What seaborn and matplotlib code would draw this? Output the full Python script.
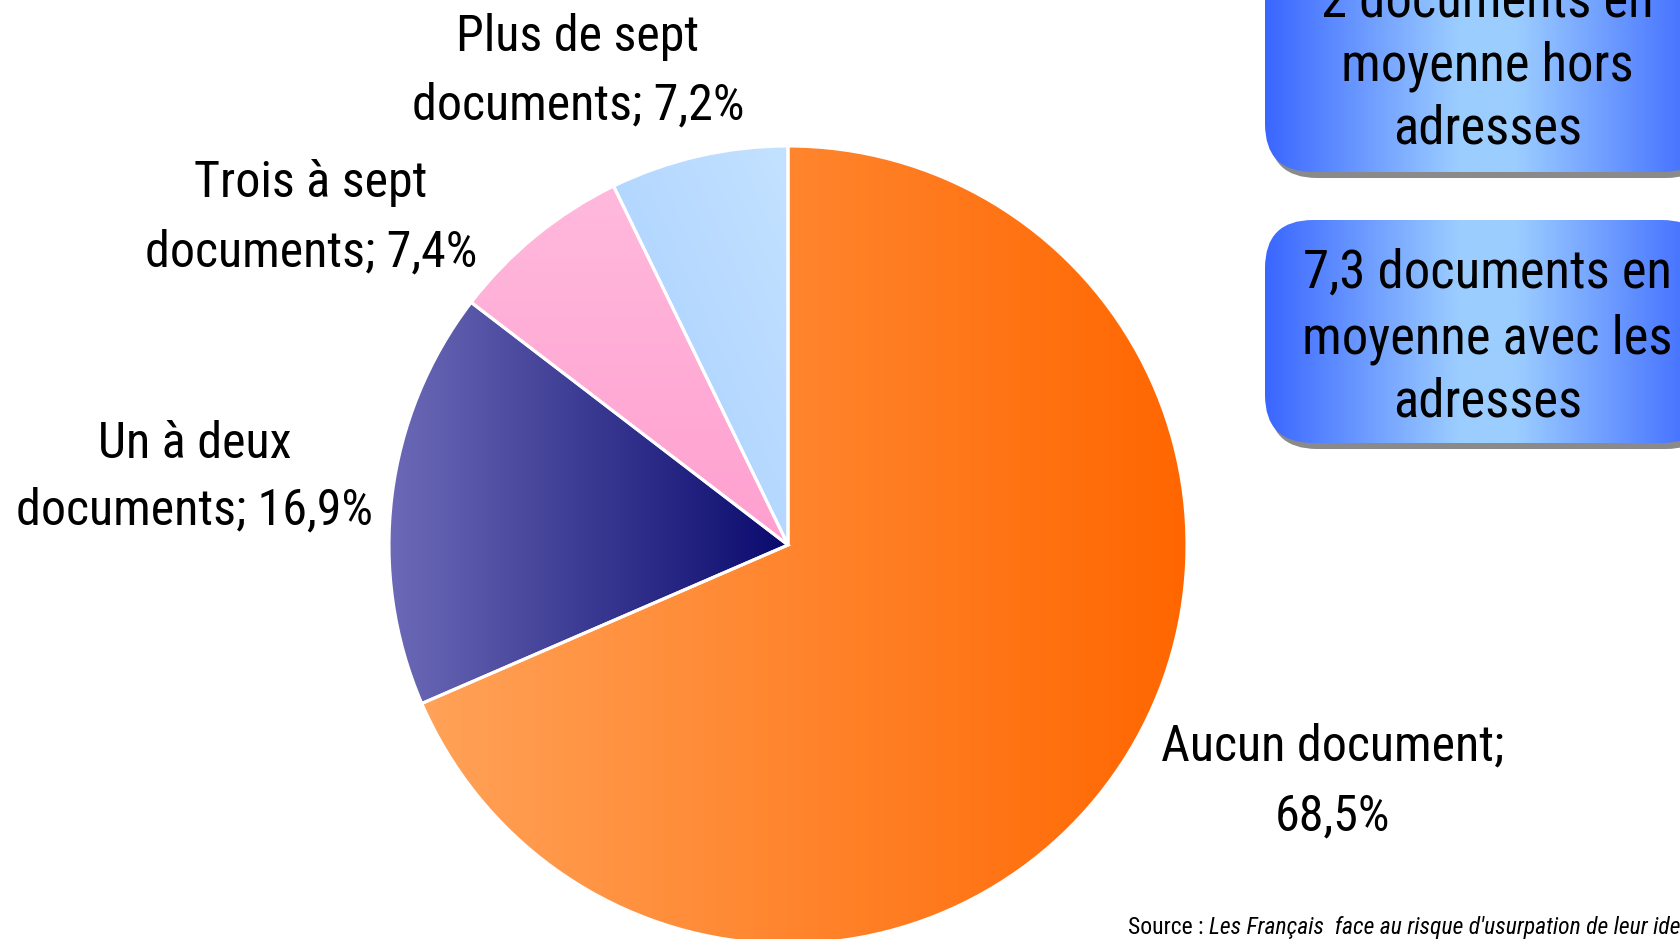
import numpy as np
import matplotlib
matplotlib.use("Agg")
import matplotlib.pyplot as plt
import seaborn as sns
from matplotlib import font_manager as fm
from matplotlib.patches import FancyBboxPatch
from matplotlib.colors import to_rgb

# ---------------- data ----------------
categories = ["Aucun document", "Un à deux documents", "Trois à sept documents", "Plus de sept documents"]
values = [68.5, 16.9, 7.4, 7.2]
value_labels = ["68,5%", "16,9%", "7,4%", "7,2%"]
label_lines = [
    ["Aucun document;", "{v}"],
    ["Un à deux", "documents; {v}"],
    ["Trois à sept", "documents; {v}"],
    ["Plus de sept", "documents; {v}"],
]
box_texts = [
    ["2 documents en", "moyenne hors", "adresses"],
    ["7,3 documents en", "moyenne avec les", "adresses"],
]
source_prefix = "Source : "
source_title = "Les Français  face au risque d'usurpation de leur identité"

# ---------------- style ----------------
sns.set_theme(style="white")
available = {f.name for f in fm.fontManager.ttflist}
candidates = ["Liberation Sans Narrow", "Arial Narrow", "Roboto Condensed", "Archivo Narrow",
              "PT Sans Narrow", "IBM Plex Sans Condensed", "Fira Sans Condensed",
              "Sofia Sans Condensed", "Open Sans Condensed"]
narrow = next((c for c in candidates if c in available), "DejaVu Sans")
plt.rcParams["font.family"] = [narrow, "DejaVu Sans"]

W, H = 1681, 939
fig = plt.figure(figsize=(W / 100, H / 100), dpi=100)
ax = fig.add_axes([0, 0, 1, 1])
ax.set_xlim(0, W)
ax.set_ylim(0, H)


def Y(y):  # pixel-from-top -> data y
    return H - y


# gradient specs per wedge: (start colour, end colour, direction)
grads = [
    ("#FFA258", "#FF6600", "h"),
    ("#6C6AB7", "#0A0A6E", "h"),
    ("#FFA0D0", "#FFB9DC", "v"),
    ("#A6CEFF", "#C4E2FF", "d"),
]

cx, cy, R = 788, Y(545), 399
wedges, _ = ax.pie(
    values, startangle=90, counterclock=False, center=(cx, cy), radius=R,
    frame=True,
    wedgeprops=dict(facecolor="none", edgecolor="white", linewidth=2.2, zorder=3),
)


def grad_img(c0, c1, direction, n=256):
    a, b = np.array(to_rgb(c0)), np.array(to_rgb(c1))
    t = np.linspace(0, 1, n)
    if direction == "h":
        tt = np.tile(t, (2, 1))
    elif direction == "v":
        tt = np.tile(t[:, None], (1, 2))
    else:
        X, Yg = np.meshgrid(t, t)
        tt = (X + Yg) / 2
    return a + (b - a) * tt[..., None]


for w, (c0, c1, d) in zip(wedges, grads):
    th = np.radians(np.linspace(w.theta1, w.theta2, 200))
    xs = np.concatenate([[w.center[0]], w.center[0] + w.r * np.cos(th)])
    ys = np.concatenate([[w.center[1]], w.center[1] + w.r * np.sin(th)])
    im = ax.imshow(grad_img(c0, c1, d), extent=(xs.min(), xs.max(), ys.min(), ys.max()),
                   origin="lower", aspect="auto", zorder=2, interpolation="bilinear")
    im.set_clip_path(w)

# ---------------- labels ----------------
label_pos = [(1333, [746, 816]), (195, [444, 510]), (311, [183, 252]), (578, [37, 105])]
for lines, v, (x, ys) in zip(label_lines, value_labels, label_pos):
    for line, y in zip(lines, ys):
        ax.text(x, Y(y), line.format(v=v), ha="center", va="center",
                fontsize=36, color="black", zorder=5)

# ---------------- boxes ----------------
box_geom = [(-51, 172, [2, 66, 129]), (220, 443, [273, 339, 402])]
bx0, bx1 = 1265, 1710
for lines, (top, bot, ys) in zip(box_texts, box_geom):
    shadow = FancyBboxPatch((bx0 + 4, Y(bot) - 6), bx1 - bx0, bot - top,
                            boxstyle="round,pad=0,rounding_size=48",
                            facecolor="#8A8A8A", edgecolor="none", zorder=1)
    ax.add_patch(shadow)
    box = FancyBboxPatch((bx0, Y(bot)), bx1 - bx0, bot - top,
                         boxstyle="round,pad=0,rounding_size=48",
                         facecolor="none", edgecolor="none", zorder=3)
    ax.add_patch(box)
    t = np.linspace(0, 1, 256)
    edge = np.array(to_rgb("#3A66FF"))
    mid = np.array(to_rgb("#9CCDFF"))
    f = 1 - np.abs(t - 0.5) * 2
    f = np.clip(f * 1.15, 0, 1)
    img = edge + (mid - edge) * f[:, None]
    img = np.tile(img[None, :, :], (2, 1, 1))
    im = ax.imshow(img, extent=(bx0, bx1, Y(bot), Y(top)), origin="lower",
                   aspect="auto", zorder=2, interpolation="bilinear")
    im.set_clip_path(box)
    for line, y in zip(lines, ys):
        ax.text((bx0 + bx1) / 2, Y(y), line, ha="center", va="center",
                fontsize=38, color="black", zorder=5)

# ---------------- source ----------------
t1 = ax.text(1128, Y(934), source_prefix, ha="left", va="baseline", fontsize=17, color="black")
renderer = fig.canvas.get_renderer()
bb = t1.get_window_extent(renderer)
x_end = ax.transData.inverted().transform((bb.x1, bb.y0))[0]
ax.text(x_end, Y(934), source_title, ha="left", va="baseline", fontsize=17,
        style="italic", color="black")

ax.set_xlim(0, W)
ax.set_ylim(0, H)
ax.set_aspect("auto")
ax.axis("off")
fig.savefig("out.png", dpi=100, facecolor="white")
